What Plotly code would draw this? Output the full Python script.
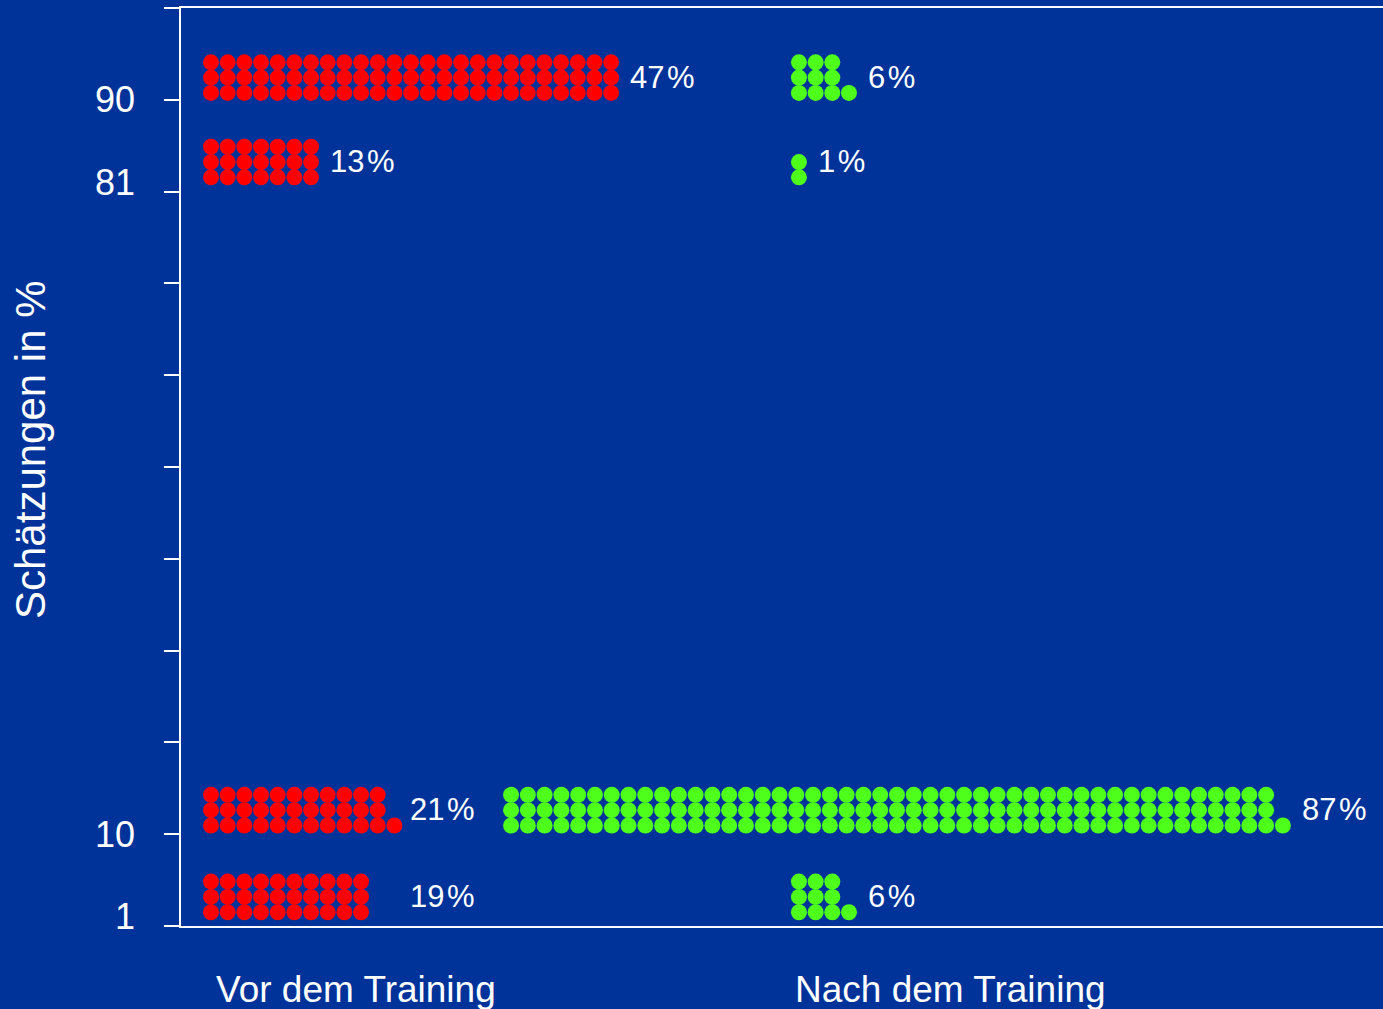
import plotly.graph_objects as go

# ---------------- data ----------------
categories = ["Vor dem Training", "Nach dem Training"]
estimates = [1, 10, 81, 90]                 # estimate levels (y)
estimate_labels = ["1", "10", "81", "90"]
vor_counts = [30, 34, 21, 75]               # dots per estimate level
nach_counts = [10, 139, 2, 10]
vor_pct = ["19\u200a%", "21\u200a%", "13\u200a%", "47\u200a%"]
nach_pct = ["6\u200a%", "87\u200a%", "1\u200a%", "6\u200a%"]

# ---------------- style / layout ----------------
BG = "#003399"
RED = "#ff0000"
GREEN = "#4dff1a"
WHITE = "#ffffff"
FONT = "Liberation Sans, Arial, sans-serif"

W, H = 1383, 1009
ML, MR, MT, MB = 181, 0, 8, 83
COL_PX = 16.67
X_MAX = (W - ML - MR) / COL_PX       # x axis measured in dot columns
ROWS = 3
ROW_STEP = 1.667                      # y units between dot rows
ROW_BASES = [0.5, 0.95, 0.55, 0.75]   # bottom row offset above each estimate
LABEL_GAP = 1.0

vor_starts = [1.8, 1.8, 1.8, 1.8]
nach_starts = [37.07, 19.8, 37.07, 37.07]
vor_steps = [1.0, 1.0, 1.0, 1.0]
nach_steps = [1.0, 1.0065, 1.0, 1.0]


def dots(counts, starts, steps):
    xs, ys = [], []
    for est, base, n, s, st in zip(estimates, ROW_BASES, counts, starts, steps):
        for i in range(n):
            xs.append(s + (i // ROWS) * st)
            ys.append(est + base + (i % ROWS) * ROW_STEP)
    return xs, ys


def label_pos(counts, starts, steps):
    out = []
    for est, base, n, s, st in zip(estimates, ROW_BASES, counts, starts, steps):
        ncols = -(-n // ROWS)
        out.append((s + (ncols - 1) * st + LABEL_GAP, est + base + ROW_STEP + 0.05))
    return out


fig = go.Figure()
for counts, starts, steps, color, name in [
        (vor_counts, vor_starts, vor_steps, RED, categories[0]),
        (nach_counts, nach_starts, nach_steps, GREEN, categories[1])]:
    xs, ys = dots(counts, starts, steps)
    fig.add_trace(go.Scatter(x=xs, y=ys, mode="markers", name=name,
                             marker=dict(size=16, color=color, line=dict(width=0)),
                             hoverinfo="skip", showlegend=False))

vor_lp = label_pos(vor_counts, vor_starts, vor_steps)
# lower two "Vor" labels are aligned with each other
ax = max(vor_lp[0][0], vor_lp[1][0]) - 0.2
vor_lp[0] = (ax, vor_lp[0][1])
vor_lp[1] = (ax, vor_lp[1][1])
nach_lp = label_pos(nach_counts, nach_starts, nach_steps)

annotations = []
for (x, y), t in list(zip(vor_lp, vor_pct)) + list(zip(nach_lp, nach_pct)):
    annotations.append(dict(x=x, y=y, xref="x", yref="y", text=t, showarrow=False,
                            xanchor="left", yanchor="middle",
                            font=dict(family=FONT, size=31, color=WHITE)))

# category labels below the axis
for cx, t in zip([10.5, 46.19], categories):
    annotations.append(dict(x=cx, y=-0.0697, xref="x", yref="paper", text=t,
                            showarrow=False, xanchor="center", yanchor="middle",
                            font=dict(family=FONT, size=37, color=WHITE)))

# y axis title
annotations.append(dict(x=(30 - ML) / (W - ML - MR), y=(H - MB - 450) / (H - MT - MB),
                        xref="paper", yref="paper", text="Schätzungen in %",
                        textangle=-90, showarrow=False, xanchor="center", yanchor="middle",
                        font=dict(family=FONT, size=42, color=WHITE)))

fig.update_layout(
    width=W, height=H,
    margin=dict(l=ML, r=MR, t=MT, b=MB, pad=0),
    paper_bgcolor=BG, plot_bgcolor=BG,
    font=dict(family=FONT, color=WHITE),
    annotations=annotations,
    xaxis=dict(range=[0, X_MAX], showgrid=False, zeroline=False,
               showticklabels=False, ticks="", showline=True, mirror=True,
               linecolor=WHITE, linewidth=2, fixedrange=True),
    yaxis=dict(range=[0, 100], tickvals=list(range(0, 101, 10)), ticks="outside",
               ticklen=15, tickwidth=2, tickcolor=WHITE, showticklabels=False,
               showgrid=False, zeroline=False, showline=True, linecolor=WHITE,
               linewidth=2, fixedrange=True),
    yaxis2=dict(range=[0, 100], overlaying="y", side="left", anchor="x",
                tickvals=estimates, ticktext=estimate_labels, ticks="",
                showgrid=False, zeroline=False, showline=False,
                tickfont=dict(family=FONT, size=36, color=WHITE),
                ticklabelstandoff=45, fixedrange=True),
)
# dummy trace to activate yaxis2
fig.add_trace(go.Scatter(x=[None], y=[None], yaxis="y2", showlegend=False, hoverinfo="skip"))

fig.write_html("out.html", config={"displayModeBar": False},
               post_script="document.body.style.margin='0';")
